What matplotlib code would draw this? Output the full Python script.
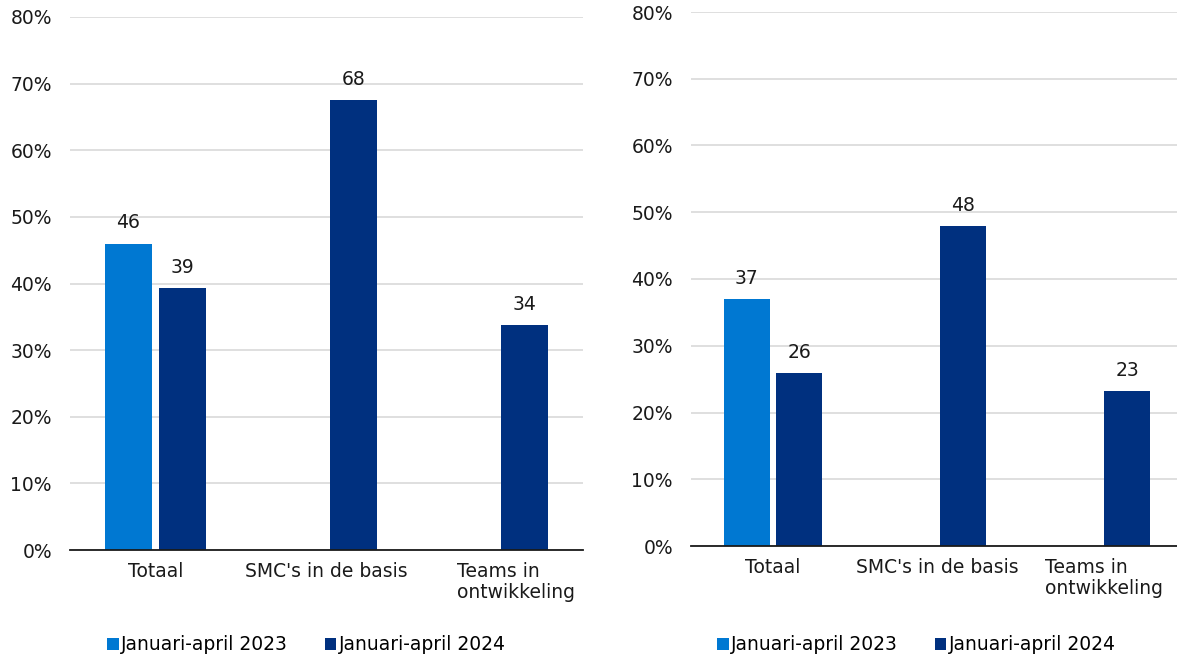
import matplotlib.pyplot as plt
import numpy as np
from matplotlib.transforms import blended_transform_factory

# Data
categories = ["Totaal", "SMC's in de basis", "Teams in\nontwikkeling"]
series_names = ["Januari-april 2023", "Januari-april 2024"]
left_2023 = [46.0, np.nan, np.nan]
left_2024 = [39.3, 67.6, 33.8]
right_2023 = [37.0, np.nan, np.nan]
right_2024 = [25.9, 47.9, 23.2]
yticks = [0, 10, 20, 30, 40, 50, 60, 70, 80]

colors = ["#0078D2", "#00307F"]
plt.rcParams['font.family'] = ['DejaVu Sans']
fs = 13.5

fig = plt.figure(figsize=(11.77, 6.59), dpi=100)
ax1 = fig.add_axes([70 / 1177, 1 - 550 / 659, 513 / 1177, 533 / 659])
ax2 = fig.add_axes([691 / 1177, 1 - 546 / 659, 492 / 1177, 534 / 659])


def draw(ax, v23, v24, label_shift):
    x = np.arange(len(categories))
    w = 0.277
    off = 0.159
    b1 = ax.bar(x - off, v23, w, color=colors[0], label=series_names[0], zorder=3)
    b2 = ax.bar(x + off, v24, w, color=colors[1], label=series_names[1], zorder=3)
    for bars, vals in [(b1, v23), (b2, v24)]:
        for rect, v in zip(bars, vals):
            if np.isnan(v):
                continue
            ax.annotate(f"{round(v):d}", (rect.get_x() + rect.get_width() / 2, v),
                        xytext=(0, 8), textcoords="offset points",
                        ha="center", va="bottom", fontsize=fs, color="#1a1a1a")
    ax.set_xlim(-0.5, 2.5)
    ax.set_ylim(0, 80)
    ax.set_yticks(yticks)
    ax.set_yticklabels([f"{t}%" for t in yticks], fontsize=fs, color="#1a1a1a")
    ax.tick_params(axis="y", length=0, pad=13)
    ax.set_xticks([])
    ax.grid(axis="y", color="#D9D9D9", linewidth=1.2, zorder=0)
    for s in ["left", "right", "top"]:
        ax.spines[s].set_visible(False)
    ax.spines["bottom"].set_color("#1a1a1a")
    ax.spines["bottom"].set_linewidth(1.3)
    ax.spines["bottom"].set_zorder(4)
    tr = blended_transform_factory(ax.transData, ax.transAxes)
    for i, c in enumerate(categories):
        ax.text(i + label_shift[i], -0.023, c, transform=tr, ha="center", va="top",
                multialignment="left", fontsize=fs, color="#1a1a1a", linespacing=1.12)


draw(ax1, left_2023, left_2024, [0, 0, 0.11])
draw(ax2, right_2023, right_2024, [0, 0, 0.02])

for ax, cx in [(ax1, 306.5 / 1177), (ax2, 916.5 / 1177)]:
    ax.legend(loc="center", bbox_to_anchor=(cx, 1 - 645 / 659), bbox_transform=fig.transFigure,
              ncol=2, frameon=False, fontsize=fs, handlelength=0.6, handleheight=0.6,
              handletextpad=0.12, columnspacing=2.0, borderpad=0)

fig.savefig("out.png", dpi=100)
